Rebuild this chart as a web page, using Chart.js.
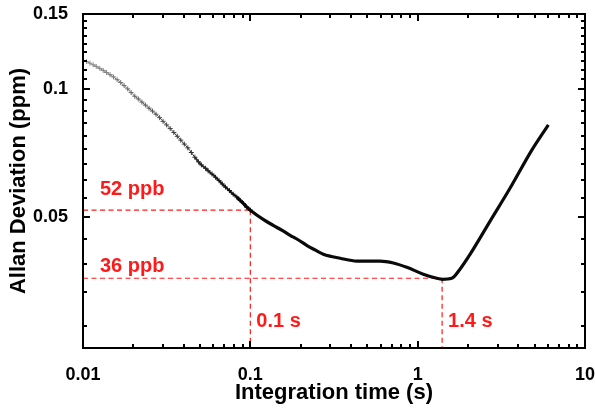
<!DOCTYPE html>
<html>
<head>
<meta charset="utf-8">
<script src="https://cdn.jsdelivr.net/npm/chart.js@4.4.1/dist/chart.umd.min.js"></script>
<style>
  html, body { margin: 0; padding: 0; background: #fff; }
  #wrap { width: 595px; height: 414px; }
</style>
</head>
<body>
<div id="wrap"><canvas id="adevChart" width="595" height="414"></canvas></div>
<script>
// Allan deviation vs integration time
const tau = [0.0105, 0.011, 0.0115, 0.012, 0.0126, 0.0132, 0.0138, 0.0145, 0.0152, 0.016,
    0.0168, 0.0176, 0.0185, 0.0194, 0.0204, 0.0214, 0.0225, 0.0236, 0.0248, 0.026,
    0.0273, 0.0287, 0.0301, 0.0316, 0.0332, 0.0349, 0.0366, 0.0384, 0.0403, 0.0423,
    0.0444, 0.0466, 0.049, 0.051, 0.054, 0.056, 0.059, 0.062, 0.065, 0.068,
    0.071, 0.075, 0.079, 0.083, 0.087, 0.091, 0.095, 0.1, 0.12, 0.137,
    0.155, 0.173, 0.195, 0.217, 0.245, 0.273, 0.305, 0.344, 0.432, 0.52,
    0.596, 0.716, 0.861, 1.08, 1.3, 1.4, 1.6, 1.79, 2.06, 2.71,
    3.57, 4.81, 6.04];
const adev = [0.1160, 0.1150, 0.1140, 0.1130, 0.1118, 0.1106, 0.1094, 0.1081, 0.1068, 0.1052,
    0.1036, 0.1019, 0.1001, 0.0981, 0.0962, 0.0948, 0.0932, 0.0917, 0.0902, 0.0888,
    0.0873, 0.0857, 0.0840, 0.0824, 0.0808, 0.0791, 0.0775, 0.0759, 0.0743, 0.0728,
    0.0710, 0.0692, 0.0675, 0.0664, 0.0652, 0.0643, 0.0632, 0.0621, 0.0610, 0.0599,
    0.0589, 0.0578, 0.0567, 0.0558, 0.0548, 0.0539, 0.0529, 0.0520, 0.0494, 0.0479,
    0.0466, 0.0454, 0.0442, 0.0430, 0.0419, 0.0410, 0.0405, 0.0401, 0.0395, 0.0395,
    0.0395, 0.0391, 0.0382, 0.0368, 0.0360, 0.0358, 0.0360, 0.0378, 0.0410, 0.0490,
    0.0586, 0.0719, 0.0824];

const xMajor = [0.01, 0.1, 1, 10];
const xLabels = ['0.01', '0.1', '1', '10'];
const yMajor = [0.05, 0.1, 0.15];
const yLabels = ['0.05', '0.1', '0.15'];

// guide lines: noise floor at 0.1 s and minimum at 1.4 s
const markTau = [0.1, 1.4];
const markTauLabels = ['0.1 s', '1.4 s'];
const markDev = [0.052, 0.036];
const markDevLabels = ['52 ppb', '36 ppb'];

const FONT = "'Liberation Sans', Arial, sans-serif";
const RED = '#ff1a1a';

function buildXTicks() {
    const out = [];
    for (let d = 0; d < xMajor.length; d++) {
        out.push({ value: xMajor[d], major: true });
        if (d < xMajor.length - 1) {
            for (let k = 2; k <= 9; k++) out.push({ value: xMajor[d] * k, major: false });
        }
    }
    return out;
}

function buildYTicks(yMin) {
    const step = (yMajor[1] - yMajor[0]) / 9;
    const out = [];
    for (let v = yMajor[0] - step; v > yMin; v -= step) out.push({ value: v, major: false });
    yMajor.forEach((m, i) => {
        out.push({ value: m, major: true });
        if (i < yMajor.length - 1) {
            for (let k = 1; k <= 8; k++) out.push({ value: m + k * step, major: false });
        }
    });
    return out.sort((a, b) => a.value - b.value);
}

// grey crosses at short tau, turning into a dark line
function shade(x) {
    let t = (Math.log10(x) + 2) / 0.9;
    t = Math.max(0, Math.min(1, t));
    const g = Math.round(150 - 140 * t);
    return `rgb(${g},${g},${g})`;
}

const framePlugin = {
    id: 'frame',
    afterDraw(chart) {
        const { ctx, chartArea: a, scales: { x, y } } = chart;
        ctx.save();
        ctx.strokeStyle = '#000';
        ctx.lineWidth = 2;
        ctx.beginPath();
        x.ticks.forEach(t => {
            const px = Math.round(x.getPixelForValue(t.value));
            const len = xMajor.includes(t.value) ? 7 : 4;
            ctx.moveTo(px, a.bottom); ctx.lineTo(px, a.bottom - len);
            ctx.moveTo(px, a.top); ctx.lineTo(px, a.top + len);
        });
        y.ticks.forEach(t => {
            const py = Math.round(y.getPixelForValue(t.value));
            const len = yMajor.includes(t.value) ? 7 : 4;
            ctx.moveTo(a.left, py); ctx.lineTo(a.left + len, py);
            ctx.moveTo(a.right, py); ctx.lineTo(a.right - len, py);
        });
        ctx.stroke();
        ctx.strokeRect(a.left, a.top, a.right - a.left, a.bottom - a.top);
        ctx.restore();
    }
};

const guidePlugin = {
    id: 'guides',
    beforeDatasetsDraw(chart) {
        const { ctx, chartArea: a, scales: { x, y } } = chart;
        ctx.save();
        ctx.strokeStyle = RED;
        ctx.lineWidth = 1.2;
        ctx.setLineDash([5, 3.5]);
        markTau.forEach((t, i) => {
            const px = x.getPixelForValue(t);
            const py = y.getPixelForValue(markDev[i]);
            ctx.beginPath();
            ctx.moveTo(a.left, py); ctx.lineTo(px, py);
            ctx.moveTo(px, py); ctx.lineTo(px, a.bottom);
            ctx.stroke();
        });
        ctx.setLineDash([]);
        ctx.fillStyle = RED;
        ctx.font = `bold 20px ${FONT}`;
        ctx.textAlign = 'left';
        ctx.textBaseline = 'alphabetic';
        ctx.fillText(markDevLabels[0], a.left + 17, y.getPixelForValue(markDev[0]) - 15);
        ctx.fillText(markDevLabels[1], a.left + 17, y.getPixelForValue(markDev[1]) - 6);
        markTau.forEach((t, i) => {
            ctx.fillText(markTauLabels[i], x.getPixelForValue(t) + 6, a.bottom - 21);
        });
        ctx.restore();
    }
};

const Y_MIN = 0.0247;
const points = tau.map((t, i) => ({ x: t, y: adev[i] }));

new Chart(document.getElementById('adevChart').getContext('2d'), {
    type: 'line',
    data: {
        datasets: [{
            data: points,
            borderColor: '#000',
            borderWidth: 3,
            cubicInterpolationMode: 'monotone',
            segment: {
                borderColor: c => shade(c.p0.parsed.x),
                borderWidth: c => c.p0.parsed.x < 0.045 ? 1 : (c.p0.parsed.x < 0.08 ? 2 : 3.2)
            },
            pointStyle: 'cross',
            pointRadius: c => (c.raw && c.raw.x <= 0.1) ? 2.5 : 0,
            pointBorderColor: c => c.raw ? shade(c.raw.x) : '#000',
            pointBorderWidth: 1
        }]
    },
    options: {
        responsive: false,
        animation: false,
        events: [],
        layout: { padding: { top: 14, right: 10, left: 0, bottom: 0 } },
        plugins: { legend: { display: false }, tooltip: { enabled: false } },
        scales: {
            x: {
                type: 'logarithmic',
                min: 0.01,
                max: 10,
                grid: { display: false },
                border: { display: false },
                afterBuildTicks: s => { s.ticks = buildXTicks(); },
                afterFit: s => { s.height = 66; s.paddingLeft = 0; s.paddingRight = 0; },
                ticks: {
                    autoSkip: false, maxRotation: 0, minRotation: 0, padding: 8,
                    color: '#000', font: { family: FONT, size: 18, weight: 'bold' },
                    callback: v => { const i = xMajor.indexOf(v); return i >= 0 ? xLabels[i] : ''; }
                },
                title: {
                    display: true, text: 'Integration time (s)', color: '#000',
                    font: { family: FONT, size: 22, weight: 'bold' },
                    padding: { top: 0, bottom: 8 }
                }
            },
            y: {
                type: 'logarithmic',
                min: Y_MIN,
                max: 0.15,
                grid: { display: false },
                border: { display: false },
                afterBuildTicks: s => { s.ticks = buildYTicks(Y_MIN); },
                afterFit: s => { s.width = 83; s.paddingTop = 0; s.paddingBottom = 0; },
                ticks: {
                    autoSkip: false, padding: 7,
                    color: '#000', font: { family: FONT, size: 18, weight: 'bold' },
                    callback: v => { const i = yMajor.indexOf(v); return i >= 0 ? yLabels[i] : ''; }
                },
                title: {
                    display: true, text: 'Allan Deviation (ppm)', color: '#000',
                    font: { family: FONT, size: 22, weight: 'bold' },
                    padding: { top: 6, bottom: 0 }
                }
            }
        }
    },
    plugins: [guidePlugin, framePlugin]
});
</script>
</body>
</html>
